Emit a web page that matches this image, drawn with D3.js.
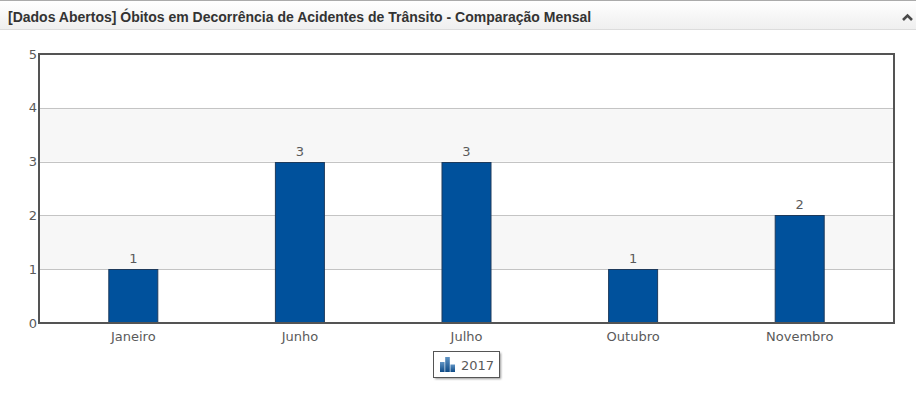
<!DOCTYPE html>
<html>
<head>
<meta charset="utf-8">
<script src="https://cdn.jsdelivr.net/npm/d3@7"></script>
<style>
  html, body { margin: 0; padding: 0; background: #fff; }
  svg { display: block; }
  text { font-family: "DejaVu Sans", sans-serif; font-size: 13px; fill: #5a5a5a; }
  .title { font-family: "Liberation Sans", sans-serif; font-weight: bold; font-size: 14px; fill: #333; }
</style>
</head>
<body>
<script>
const title = '[Dados Abertos] Óbitos em Decorrência de Acidentes de Trânsito - Comparação Mensal'
const months = ['Janeiro', 'Junho', 'Julho', 'Outubro', 'Novembro']
const deaths = [1, 3, 3, 1, 2]
const yTicks = [0, 1, 2, 3, 4, 5]
const stripes = [[1, 2], [3, 4]]
const seriesName = '2017'
const legendIcon = [8, 12, 6] // relative heights of the little bars in the legend icon

const W = 916
const H = 394

const svg = d3.select('body').append('svg')
  .attr('width', W)
  .attr('height', H)

const defs = svg.append('defs')

// Header strip
const grad = defs.append('linearGradient')
  .attr('id', 'head')
  .attr('x1', 0).attr('x2', 0).attr('y1', 0).attr('y2', 1)
grad.append('stop').attr('offset', 0).attr('stop-color', '#ffffff')
grad.append('stop').attr('offset', 1).attr('stop-color', '#efefef')

const iconGrad = defs.append('linearGradient')
  .attr('id', 'icon')
  .attr('x1', 0).attr('x2', 0).attr('y1', 0).attr('y2', 1)
iconGrad.append('stop').attr('offset', 0).attr('stop-color', '#5f93c4')
iconGrad.append('stop').attr('offset', 1).attr('stop-color', '#0d4a86')

const blur = defs.append('filter').attr('id', 'soft')
blur.append('feGaussianBlur').attr('stdDeviation', 1)

svg.append('rect').attr('width', W).attr('height', 29).attr('y', 0).attr('fill', 'url(#head)')
svg.append('rect').attr('width', W).attr('height', 1).attr('y', 0).attr('fill', '#aaa')
svg.append('rect').attr('width', W).attr('height', 1).attr('y', 29).attr('fill', '#dcdcdc')

svg.append('text')
  .attr('class', 'title')
  .attr('x', 8)
  .attr('y', 22)
  .text(title)

// Collapse arrow
svg.append('path')
  .attr('d', 'M903 20 L907.5 15.5 L912 20')
  .attr('fill', 'none')
  .attr('stroke', '#4a4a4a')
  .attr('stroke-width', 2.6)

// Scales
const x = d3.scaleBand().domain(months).range([50, 883])
const y = d3.scaleLinear().domain([0, 5]).range([323, 54])
const barW = 50
const plotLeft = 39
const plotRight = 894

// Alternating background bands
svg.append('g').selectAll('rect')
  .data(stripes)
  .join('rect')
  .attr('x', plotLeft)
  .attr('width', plotRight - plotLeft)
  .attr('y', d => y(d[1]))
  .attr('height', d => y(d[0]) - y(d[1]))
  .attr('fill', '#f7f7f7')

// Grid
svg.append('g').selectAll('line')
  .data(yTicks.slice(1, -1))
  .join('line')
  .attr('x1', plotLeft)
  .attr('x2', plotRight)
  .attr('y1', d => Math.round(y(d)) + 0.5)
  .attr('y2', d => Math.round(y(d)) + 0.5)
  .attr('stroke', '#c4c4c4')

// Bars
svg.append('g').selectAll('rect')
  .data(months)
  .join('rect')
  .attr('x', d => x(d) + (x.bandwidth() - barW) / 2 + 0.5)
  .attr('width', barW - 1)
  .attr('y', (d, i) => Math.round(y(deaths[i])) + 0.5)
  .attr('height', (d, i) => y(0) - Math.round(y(deaths[i])) - 0.5)
  .attr('fill', '#00519c')
  .attr('stroke', '#1d3a5c')

// Bar value labels
svg.append('g').selectAll('text')
  .data(months)
  .join('text')
  .attr('x', d => x(d) + x.bandwidth() / 2)
  .attr('y', (d, i) => y(deaths[i]) - 6)
  .attr('text-anchor', 'middle')
  .text((d, i) => deaths[i])

// Axes
const xAxis = svg.append('g')
  .attr('transform', 'translate(0,323)')
  .call(d3.axisBottom(x).tickSize(0).tickPadding(9))
xAxis.select('.domain').remove()
xAxis.selectAll('text').style('font-family', null).style('font-size', null)

const yAxis = svg.append('g')
  .attr('transform', 'translate(' + plotLeft + ',0)')
  .call(d3.axisLeft(y).tickValues(yTicks).tickFormat(d3.format('d')).tickSize(0).tickPadding(2))
yAxis.select('.domain').remove()

// Plot frame
svg.append('rect')
  .attr('x', plotLeft)
  .attr('y', 54)
  .attr('width', plotRight - plotLeft)
  .attr('height', 269)
  .attr('fill', 'none')
  .attr('stroke', '#545454')
  .attr('stroke-width', 2)

// Legend
svg.append('rect')
  .attr('x', 435).attr('y', 353)
  .attr('width', 66).attr('height', 26)
  .attr('fill', '#999')
  .attr('filter', 'url(#soft)')
svg.append('rect')
  .attr('x', 433.5).attr('y', 351.5)
  .attr('width', 66).attr('height', 26)
  .attr('fill', '#fff')
  .attr('stroke', '#555')

const iconX = d3.scaleBand().domain(d3.range(legendIcon.length)).range([440, 455]).paddingInner(0.12)
const iconY = d3.scaleLinear().domain([0, 12]).range([372, 357])
svg.append('g').selectAll('rect')
  .data(legendIcon)
  .join('rect')
  .attr('x', (d, i) => iconX(i))
  .attr('width', iconX.bandwidth())
  .attr('y', d => iconY(d))
  .attr('height', d => iconY(0) - iconY(d))
  .attr('fill', 'url(#icon)')

svg.append('text')
  .attr('x', 461)
  .attr('y', 370)
  .text(seriesName)
</script>
</body>
</html>
